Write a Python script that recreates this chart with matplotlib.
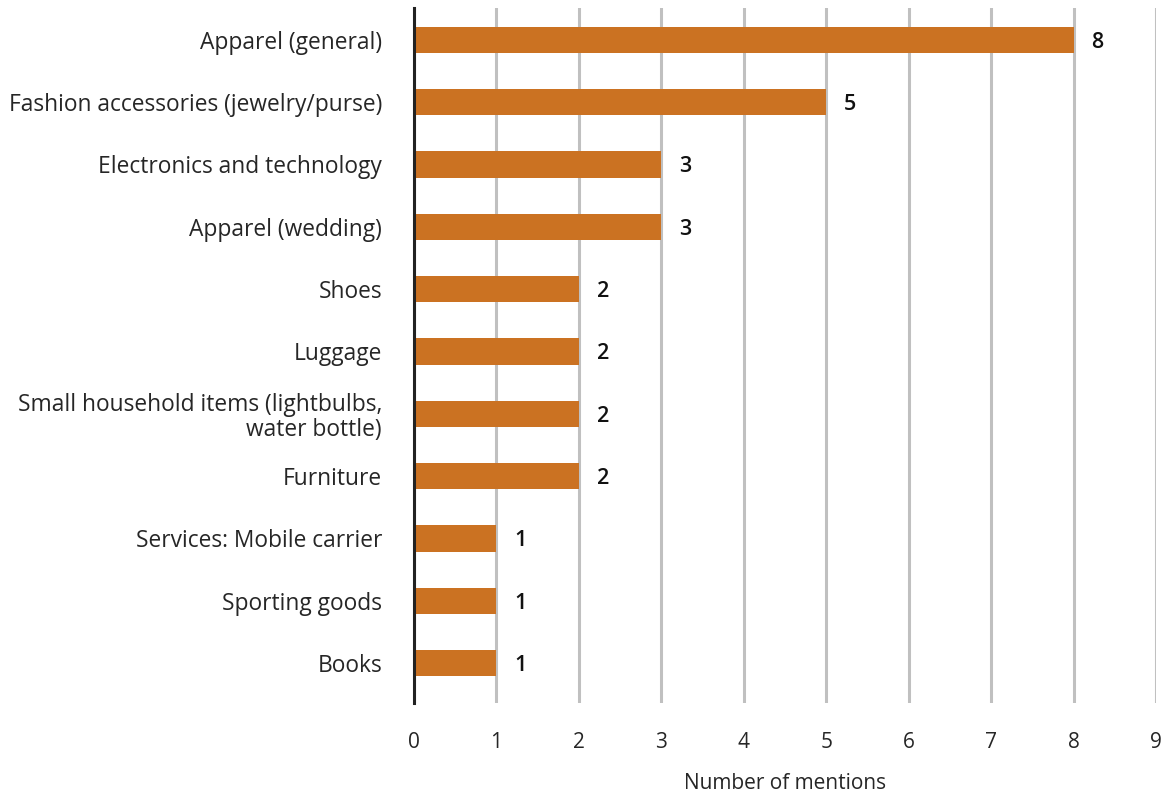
import matplotlib
matplotlib.use("Agg")
import matplotlib.pyplot as plt

categories = ["Apparel (general)", "Fashion accessories (jewelry/purse)",
              "Electronics and technology", "Apparel (wedding)", "Shoes", "Luggage",
              "Small household items (lightbulbs,\nwater bottle)", "Furniture",
              "Services: Mobile carrier", "Sporting goods", "Books"]
values = [8, 5, 3, 3, 2, 2, 2, 2, 1, 1, 1]
x_ticks = list(range(0, 10))

plt.rcParams['font.family'] = ['Open Sans', 'DejaVu Sans']

fig = plt.figure(figsize=(11.69, 7.97), dpi=100)
ax = fig.add_axes([414/1169, 1-703/797, (1156-414)/1169, (703-8)/797])

y = list(range(len(categories)))
ax.barh(y, values, height=0.42, color='#CB7222', zorder=3)
ax.set_ylim(10.64, -0.51)
ax.set_xlim(0, 9)
ax.set_xticks(x_ticks)
ax.set_xticklabels([str(t) for t in x_ticks], fontsize=15, color='#262626')
ax.set_yticks(y)
ax.set_yticklabels(categories, fontsize=16.4, color='#262626', linespacing=1.05)
ax.tick_params(axis='y', length=0, pad=23)
ax.tick_params(axis='x', length=0, pad=21)
ax.grid(axis='x', color='#C0C0C0', linewidth=2.2, zorder=0)
for s in ['top', 'right', 'bottom']:
    ax.spines[s].set_visible(False)
ax.spines['left'].set_linewidth(2.2)
ax.spines['left'].set_color('#222222')
ax.spines['left'].set_zorder(4)

for yi, v in zip(y, values):
    ax.annotate(str(v), (v, yi), xytext=(13, 0), textcoords='offset points',
                va='center_baseline', ha='left', fontsize=15.5, color='#111111',
                fontweight='semibold')

ax.set_xlabel("Number of mentions", fontsize=15, color='#262626', labelpad=14)

fig.savefig("out.png", dpi=100)
